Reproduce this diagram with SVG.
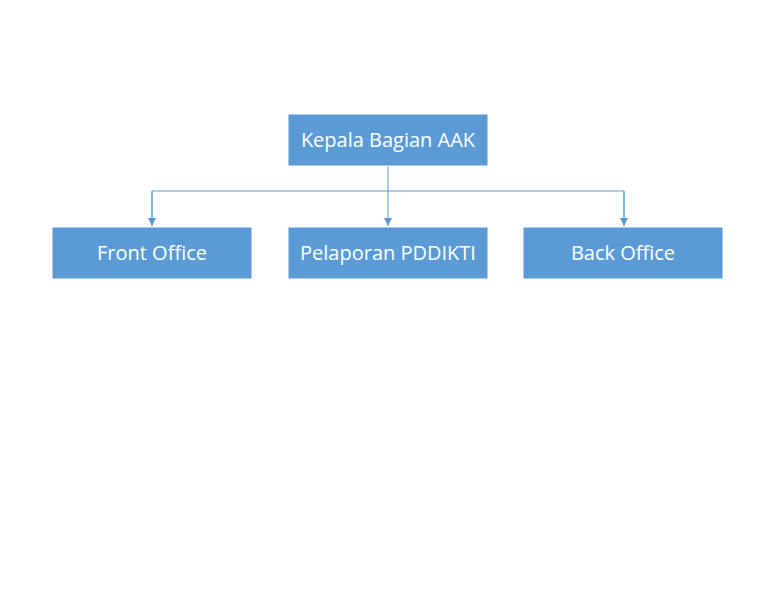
<svg xmlns="http://www.w3.org/2000/svg" width="768" height="593" viewBox="0 0 768 593">
<style>
.box{fill:#5B9BD5;stroke:#FFFFFF;stroke-width:1}
.lbl{font-family:"Open Sans","Liberation Sans",sans-serif;font-size:20px;fill:#FFFFFF;text-anchor:middle;dominant-baseline:central}
.con{fill:none;stroke:#5B9BD5;stroke-width:1}
</style>
<defs>
<marker id="arr" markerWidth="9" markerHeight="10" refX="8" refY="4.5" orient="auto" markerUnits="userSpaceOnUse">
<path d="M0,0.5 L8,4.5 L0,8.5 Z" fill="#5B9BD5"/>
</marker>
</defs>
<rect width="768" height="593" fill="#FFFFFF"/>
<g id="connectors">
<path class="con" d="M388,166 V226" marker-end="url(#arr)"/>
<path class="con" d="M152,226 V191 H624 V226" />
<path class="con" d="M152,191 V226" marker-end="url(#arr)"/>
<path class="con" d="M624,191 V226" marker-end="url(#arr)"/>
</g>
<g id="node-kepala">
<rect class="box" x="288" y="114" width="200" height="52"/>
<text class="lbl" x="388" y="139">Kepala Bagian AAK</text>
</g>
<g id="node-front">
<rect class="box" x="52" y="227" width="200" height="52"/>
<text class="lbl" x="152" y="252">Front Office</text>
</g>
<g id="node-pelaporan">
<rect class="box" x="288" y="227" width="200" height="52"/>
<text class="lbl" x="388" y="252">Pelaporan PDDIKTI</text>
</g>
<g id="node-back">
<rect class="box" x="523" y="227" width="200" height="52"/>
<text class="lbl" x="623" y="252">Back Office</text>
</g>
</svg>
